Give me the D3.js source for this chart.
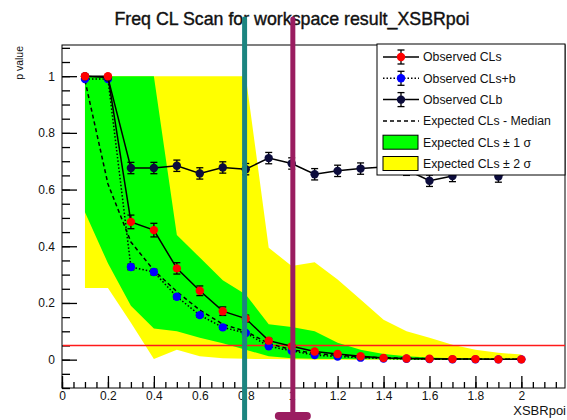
<!DOCTYPE html>
<html>
<head>
<meta charset="utf-8">
<script src="https://cdn.jsdelivr.net/npm/d3@7"></script>
<style>
  html, body { margin: 0; padding: 0; background: #ffffff; }
  svg { display: block; }
  text { font-family: "Liberation Sans", Arial, Helvetica, sans-serif; fill: #111; }
</style>
</head>
<body>
<svg id="chart" width="567" height="420"></svg>
<script>
// Scan points of the parameter of interest
const poiValues = [0.1, 0.2, 0.3, 0.4, 0.5, 0.6, 0.7, 0.8, 0.9, 1.0,
                   1.1, 1.2, 1.3, 1.4, 1.5, 1.6, 1.7, 1.8, 1.9, 2.0];

// Observed CLs with its uncertainty
const obsCLs    = [1.000, 1.000, 0.486, 0.457, 0.322, 0.243, 0.171, 0.145, 0.067, 0.047,
                   0.029, 0.020, 0.012, 0.006, 0.004, 0.003, 0.002, 0.002, 0.001, 0.001];
const obsCLsErr = [0.000, 0.000, 0.024, 0.024, 0.020, 0.017, 0.015, 0.012, 0.008, 0.006,
                   0.004, 0.003, 0.002, 0.002, 0.001, 0.001, 0.001, 0.001, 0.001, 0.001];

// Observed CLs+b
const obsCLsb    = [0.990, 0.990, 0.327, 0.309, 0.222, 0.157, 0.114, 0.094, 0.047, 0.031,
                    0.016, 0.011, 0.007, 0.004, 0.003, 0.002, 0.001, 0.001, 0.001, 0.001];
const obsCLsbErr = [0.000, 0.000, 0.010, 0.010, 0.008, 0.007, 0.006, 0.005, 0.004, 0.003,
                    0.002, 0.002, 0.001, 0.001, 0.001, 0.001, 0.001, 0.001, 0.001, 0.001];

// Observed CLb
const obsCLb    = [1.000, 0.995, 0.676, 0.676, 0.684, 0.657, 0.678, 0.672, 0.711, 0.692,
                   0.654, 0.666, 0.674, 0.680, 0.670, 0.631, 0.648, 0.700, 0.646, 0.680];
const obsCLbErr = [0.000, 0.004, 0.020, 0.020, 0.020, 0.020, 0.020, 0.020, 0.020, 0.020,
                   0.020, 0.020, 0.020, 0.020, 0.020, 0.020, 0.020, 0.020, 0.020, 0.020];

// Expected CLs: median and the 1 and 2 sigma bands
const expMedian = [0.985, 0.620, 0.415, 0.315, 0.240, 0.175, 0.125, 0.100, 0.057, 0.035,
                   0.022, 0.015, 0.010, 0.007, 0.005, 0.003, 0.002, 0.002, 0.001, 0.001];
const exp1sUp   = [1.000, 1.000, 1.000, 1.000, 0.440, 0.360, 0.280, 0.230, 0.125, 0.115,
                   0.100, 0.060, 0.035, 0.020, 0.012, 0.008, 0.005, 0.004, 0.003, 0.003];
const exp1sDn   = [0.520, 0.340, 0.190, 0.110, 0.100, 0.077, 0.058, 0.035, 0.012, 0.005,
                   0.003, 0.002, 0.001, 0.001, 0.000, 0.000, 0.000, 0.000, 0.000, 0.000];
const exp2sUp   = [1.000, 1.000, 1.000, 1.000, 1.000, 1.000, 1.000, 1.000, 0.395, 0.330,
                   0.344, 0.283, 0.212, 0.141, 0.100, 0.077, 0.053, 0.035, 0.024, 0.018];
const exp2sDn   = [0.253, 0.253, 0.130, 0.002, 0.035, 0.012, 0.005, 0.003, 0.002, 0.001,
                   0.000, 0.000, 0.000, 0.000, 0.000, 0.000, 0.000, 0.000, 0.000, 0.000];

// Confidence-level threshold line
const clThreshold = [0.05];

// Axis tick labels
const xTickLabels = [0, 0.2, 0.4, 0.6, 0.8, 1, 1.2, 1.4, 1.6, 1.8, 2];
const yTickLabels = [0, 0.2, 0.4, 0.6, 0.8, 1];

// Vertical marker lines drawn over the plot
const markerPositions = [0.795, 1.005];
const markerColors = ["#1c8580", "#9a1d60"];

const legendEntries = [
  { label: "Observed CLs",            kind: "obs",  color: "#ff0000", dash: null },
  { label: "Observed CLs+b",          kind: "obs",  color: "#0000ff", dash: "1.5,2" },
  { label: "Observed CLb",            kind: "obs",  color: "#0c0c3c", dash: null },
  { label: "Expected CLs - Median",   kind: "line", color: null,      dash: "4,3" },
  { label: "Expected CLs \u00b1 1 \u03c3", kind: "box", color: "#00ff00" },
  { label: "Expected CLs \u00b1 2 \u03c3", kind: "box", color: "#ffff00" }
];

const svg = d3.select("#chart");
const frame = { left: 62, right: 565, top: 45, bottom: 388 };

const x = d3.scaleLinear().domain([0, 2.19]).range([frame.left, frame.right]);
const y = d3.scaleLinear().domain([-0.1, 1.11]).range([frame.bottom, frame.top]);

const rows = poiValues.map((v, i) => ({
  x: v,
  cls: obsCLs[i], clsErr: obsCLsErr[i],
  clsb: obsCLsb[i], clsbErr: obsCLsbErr[i],
  clb: obsCLb[i], clbErr: obsCLbErr[i],
  med: expMedian[i],
  u1: exp1sUp[i], d1: exp1sDn[i],
  u2: exp2sUp[i], d2: exp2sDn[i]
}));

// Title
svg.append("text")
  .attr("x", 292).attr("y", 25)
  .attr("text-anchor", "middle")
  .style("font-size", "17.8px")
  .style("stroke", "#111").style("stroke-width", "0.4px")
  .text("Freq CL Scan for workspace result_XSBRpoi");

// Expected bands
const band = (lo, hi) => d3.area()
  .x(d => x(d.x)).y0(d => y(d[lo])).y1(d => y(d[hi]));

svg.append("path").datum(rows)
  .attr("d", band("d2", "u2")).attr("fill", "#ffff00");
svg.append("path").datum(rows)
  .attr("d", band("d1", "u1")).attr("fill", "#00ff00");

// Frame
svg.append("rect")
  .attr("x", frame.left).attr("y", frame.top)
  .attr("width", frame.right - frame.left).attr("height", frame.bottom - frame.top)
  .attr("fill", "none").attr("stroke", "#000").attr("stroke-width", 1);

// Axes: ticks point into the frame
const yMinor = d3.range(-0.1, 1.1001, 0.05).map(v => +v.toFixed(2));
const xMinor = d3.range(0, 2.1901, 0.05).map(v => +v.toFixed(2));

const yAxisMinor = svg.append("g").attr("transform", `translate(${frame.left},0)`)
  .call(d3.axisLeft(y).tickValues(yMinor).tickSize(-8).tickFormat(""));
const yAxisMajor = svg.append("g").attr("transform", `translate(${frame.left},0)`)
  .call(d3.axisLeft(y).tickValues(yTickLabels).tickSize(-15).tickPadding(7)
        .tickFormat(d => String(d)));
const xAxisMinor = svg.append("g").attr("transform", `translate(0,${frame.bottom})`)
  .call(d3.axisBottom(x).tickValues(xMinor).tickSize(-6).tickFormat(""));
const xAxisMajor = svg.append("g").attr("transform", `translate(0,${frame.bottom})`)
  .call(d3.axisBottom(x).tickValues(xTickLabels).tickSize(-12).tickPadding(3)
        .tickFormat(d => String(d)));

[yAxisMinor, yAxisMajor, xAxisMinor, xAxisMajor].forEach(g => {
  g.select(".domain").remove();
  g.selectAll(".tick line").attr("stroke", "#000").attr("stroke-width", 1.3);
  g.selectAll(".tick text")
    .style("font-family", "'Liberation Sans', Arial, sans-serif")
    .style("font-size", "12px").attr("fill", "#111");
});

// Threshold line
svg.selectAll(".threshold").data(clThreshold).enter().append("line")
  .attr("class", "threshold")
  .attr("x1", frame.left + 1).attr("x2", frame.right)
  .attr("y1", d => Math.round(y(d)) + 0.5).attr("y2", d => Math.round(y(d)) + 0.5)
  .style("stroke", "#ff1a1a").style("stroke-width", "1.4px");

// Axis titles
svg.append("text")
  .attr("transform", "translate(23,46) rotate(-90)")
  .attr("text-anchor", "end")
  .style("font-size", "10.5px")
  .text("p value");
svg.append("text")
  .attr("x", 566).attr("y", 415)
  .attr("text-anchor", "end")
  .style("font-size", "13px")
  .text("XSBRpoi");

// Expected median
const lineOf = key => d3.line().x(d => x(d.x)).y(d => y(d[key]));
svg.append("path").datum(rows)
  .attr("d", lineOf("med"))
  .attr("fill", "none").attr("stroke", "#000").attr("stroke-width", 1.5)
  .attr("stroke-dasharray", "4,3");

// Observed curves with error bars and markers
function drawObserved(key, errKey, color, dash) {
  svg.append("path").datum(rows)
    .attr("d", lineOf(key))
    .attr("fill", "none").attr("stroke", "#000").attr("stroke-width", 1.5)
    .attr("stroke-dasharray", dash);
  const g = svg.append("g");
  const pts = g.selectAll("g").data(rows).enter().append("g");
  pts.append("line")
    .attr("x1", d => x(d.x)).attr("x2", d => x(d.x))
    .attr("y1", d => y(d[key] - d[errKey])).attr("y2", d => y(d[key] + d[errKey]))
    .attr("stroke", "#000").attr("stroke-width", 1.3);
  [-1, 1].forEach(s => {
    pts.filter(d => d[errKey] > 0.004).append("line")
      .attr("x1", d => x(d.x) - 3.5).attr("x2", d => x(d.x) + 3.5)
      .attr("y1", d => y(d[key] + s * d[errKey])).attr("y2", d => y(d[key] + s * d[errKey]))
      .attr("stroke", "#000").attr("stroke-width", 1.3);
  });
  pts.append("circle")
    .attr("cx", d => x(d.x)).attr("cy", d => y(d[key]))
    .attr("r", 4.2).attr("fill", color);
}
drawObserved("clsb", "clsbErr", "#0000ff", "1.5,2");
drawObserved("clb", "clbErr", "#0c0c3c", null);
drawObserved("cls", "clsErr", "#ff0000", null);

// Legend
const lg = { x: 377, y: 44, w: 188, h: 131, symL: 383, symR: 419, textX: 423, row0: 57, step: 21.3 };
const legend = svg.append("g");
legend.append("rect")
  .attr("x", lg.x).attr("y", lg.y).attr("width", lg.w).attr("height", lg.h)
  .attr("fill", "#fff").attr("stroke", "#000").attr("stroke-width", 1);

legendEntries.forEach((e, i) => {
  const cy = lg.row0 + i * lg.step;
  const cx = (lg.symL + lg.symR) / 2;
  if (e.kind === "obs" || e.kind === "line") {
    legend.append("line")
      .attr("x1", lg.symL).attr("x2", lg.symR).attr("y1", cy).attr("y2", cy)
      .attr("stroke", "#000").attr("stroke-width", 1.5)
      .attr("stroke-dasharray", e.dash);
  }
  if (e.kind === "obs") {
    legend.append("line").attr("x1", cx).attr("x2", cx).attr("y1", cy - 7).attr("y2", cy + 7)
      .attr("stroke", "#000").attr("stroke-width", 1.3);
    [-7, 7].forEach(o => legend.append("line")
      .attr("x1", cx - 3.5).attr("x2", cx + 3.5).attr("y1", cy + o).attr("y2", cy + o)
      .attr("stroke", "#000").attr("stroke-width", 1.3));
    legend.append("circle").attr("cx", cx).attr("cy", cy).attr("r", 4.2).attr("fill", e.color);
  }
  if (e.kind === "box") {
    legend.append("rect")
      .attr("x", lg.symL).attr("y", cy - 7).attr("width", lg.symR - lg.symL - 1).attr("height", 14)
      .attr("fill", e.color).attr("stroke", "#000").attr("stroke-width", 1);
  }
  legend.append("text")
    .attr("x", lg.textX).attr("y", cy + 4.3)
    .style("font-size", "12.3px")
    .text(e.label);
});

// Vertical marker lines, the second one ending in a crossbar
markerPositions.forEach((p, i) => {
  svg.append("line")
    .attr("x1", x(p)).attr("x2", x(p)).attr("y1", 19).attr("y2", 420)
    .attr("stroke", markerColors[i]).attr("stroke-width", 5).attr("stroke-linecap", "round");
});
svg.append("line")
  .attr("x1", x(markerPositions[1]) - 14).attr("x2", x(markerPositions[1]) + 14)
  .attr("y1", 416).attr("y2", 416)
  .attr("stroke", markerColors[1]).attr("stroke-width", 8).attr("stroke-linecap", "round");
</script>
</body>
</html>
